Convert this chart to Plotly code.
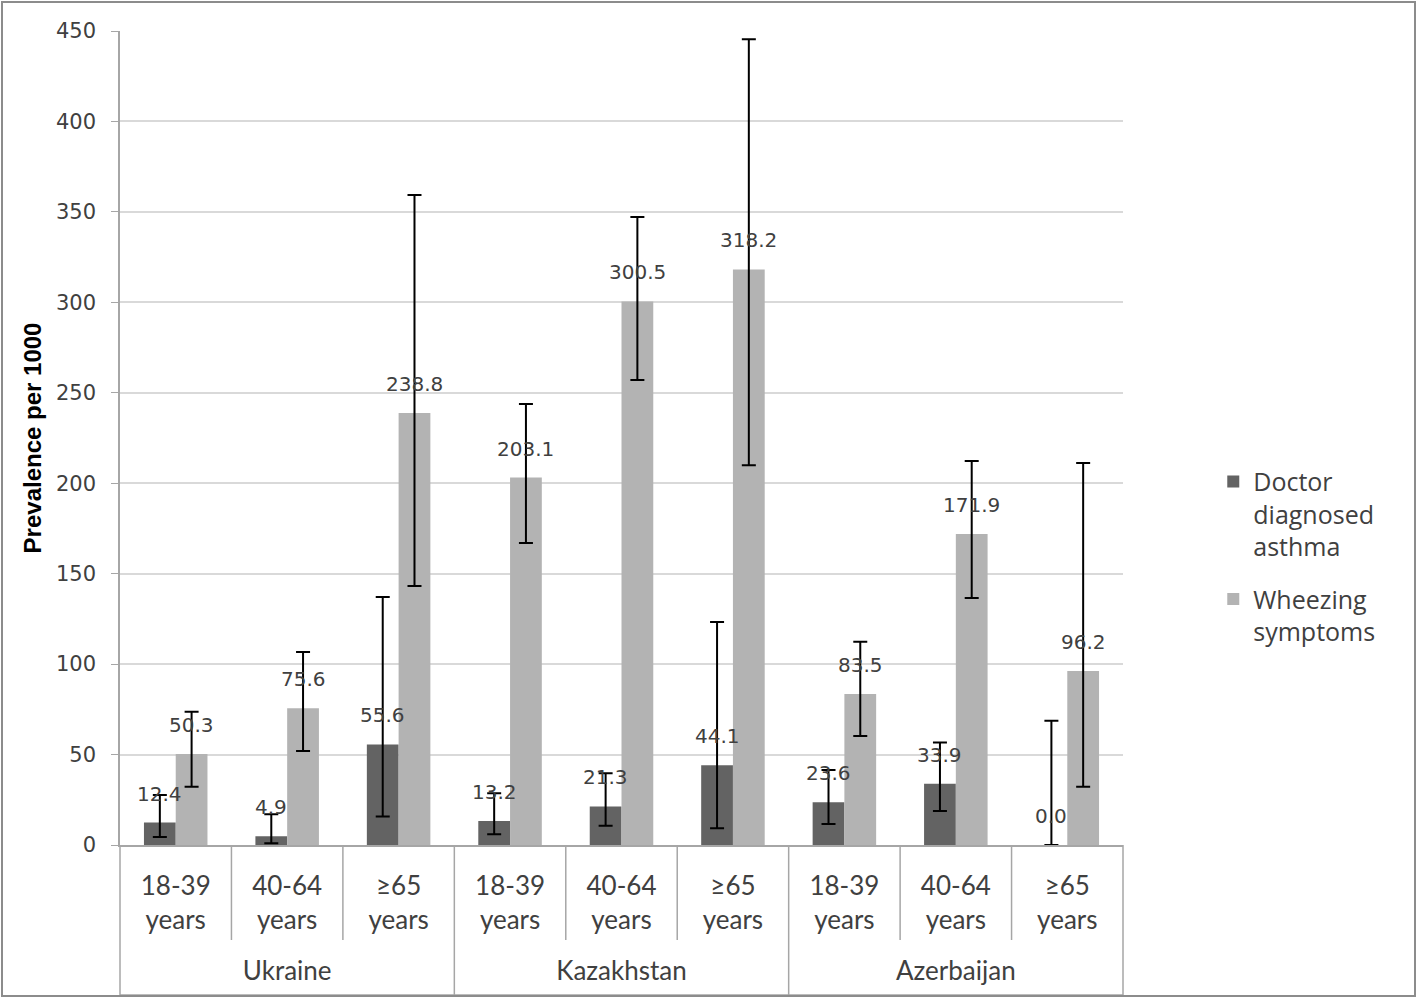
import plotly.graph_objects as go

countries = ["Ukraine"] * 3 + ["Kazakhstan"] * 3 + ["Azerbaijan"] * 3
ages = ["18-39<br>years<br> ", "40-64<br>years<br> ", "≥65<br>years<br> "] * 3

doctor = [12.4, 4.9, 55.6, 13.2, 21.3, 44.1, 23.6, 33.9, 0.0]
doctor_lo = [4.4, 1.0, 15.7, 5.9, 10.7, 9.2, 11.6, 18.8, 0.0]
doctor_hi = [27.6, 17.0, 137.1, 28.6, 39.6, 123.3, 41.5, 56.6, 68.7]

wheeze = [50.3, 75.6, 238.8, 203.1, 300.5, 318.2, 83.5, 171.9, 96.2]
wheeze_lo = [32.2, 52.0, 143.2, 167.0, 257.0, 210.0, 60.3, 136.5, 32.2]
wheeze_hi = [73.7, 106.7, 359.3, 243.8, 347.2, 445.5, 112.4, 212.3, 211.2]

y_ticks = [0, 50, 100, 150, 200, 250, 300, 350, 400, 450]

BARGAP = 0.43
label_font = dict(family="DejaVu Sans", size=20, color="#404040")


def make_bar(name, group, vals, lo, hi, color):
    return go.Bar(
        name=name,
        legendgroup=group,
        x=[countries, ages],
        y=vals,
        marker=dict(color=color, line=dict(width=0)),
        error_y=dict(
            type="data",
            symmetric=False,
            array=[h - v for h, v in zip(hi, vals)],
            arrayminus=[v - l for v, l in zip(vals, lo)],
            color="black",
            thickness=2,
            width=7,
        ),
        cliponaxis=False,
    )


fig = go.Figure()
fig.add_trace(make_bar("Doctor<br>diagnosed<br>asthma", "a", doctor, doctor_lo, doctor_hi, "#636363"))
fig.add_trace(make_bar("Wheezing<br>symptoms", "b", wheeze, wheeze_lo, wheeze_hi, "#b3b3b3"))

# value labels above bars (positioned through the category axis index)
off = (1 - BARGAP) / 4
annotations = []
for i, (d, w) in enumerate(zip(doctor, wheeze)):
    for xv, v in ((i - off, d), (i + off, w)):
        annotations.append(dict(
            x=xv, y=v, xref="x", yref="y", text=f"{v:.1f}",
            showarrow=False, yanchor="middle", yshift=29,
            font=label_font,
        ))

W, H = 1418, 998
L, R, T, B = 120, 295, 31, 153
pw, ph = W - L - R, H - T - B


def px_x(px):
    return (px - L) / pw


def px_y(py):
    return (H - B - py) / ph


shapes = []
line_col = "#a6a6a6"
cat_w = pw / 9
for k in range(10):
    xp = px_x(L + k * cat_w)
    y_end = px_y(995) if k % 3 == 0 else px_y(940)
    shapes.append(dict(type="line", xref="paper", yref="paper", x0=xp, x1=xp,
                       y0=0, y1=y_end, line=dict(color=line_col, width=1.5)))
shapes.append(dict(type="line", xref="paper", yref="paper", x0=0, x1=1,
                   y0=px_y(995), y1=px_y(995), line=dict(color=line_col, width=1.5)))
shapes.append(dict(type="rect", xref="paper", yref="paper",
                   x0=px_x(2), x1=px_x(1415), y0=px_y(996), y1=px_y(2),
                   line=dict(color="#8c8c8c", width=2)))

fig.update_layout(
    width=W, height=H,
    margin=dict(l=L, r=R, t=T, b=B, autoexpand=False),
    paper_bgcolor="white",
    plot_bgcolor="white",
    barmode="group",
    bargap=BARGAP,
    bargroupgap=0,
    showlegend=True,
    annotations=annotations,
    legend=dict(
        x=1.09, y=0.354, xanchor="left", yanchor="middle",
        font=dict(family="Open Sans", size=25, color="#404040"),
        traceorder="grouped",
        tracegroupgap=17,
        valign="top",
        itemwidth=30,
    ),
    shapes=shapes,
    xaxis=dict(
        type="multicategory",
        automargin=False,
        showline=True, linecolor=line_col, linewidth=1.5,
        showdividers=False,
        showgrid=False,
        ticklabelstandoff=17,
        tickfont=dict(family="Lato", size=26, color="#404040"),
    ),
    yaxis=dict(
        automargin=False,
        range=[0, 450],
        tickvals=y_ticks,
        showgrid=True, gridcolor="#d9d9d9", gridwidth=1.5,
        showline=True, linecolor=line_col, linewidth=1.5,
        ticks="outside", ticklen=7, tickcolor=line_col,
        ticklabelstandoff=11,
        tickfont=dict(family="DejaVu Sans", size=21, color="#404040"),
        title=dict(text="<b>Prevalence per 1000</b>",
                   font=dict(family="Liberation Sans Narrow, Liberation Sans", size=24, color="black"),
                   standoff=8),
        zeroline=False,
    ),
)

fig.write_html("out.html", post_script="document.body.style.margin='0';",
               config={"displayModeBar": False})
